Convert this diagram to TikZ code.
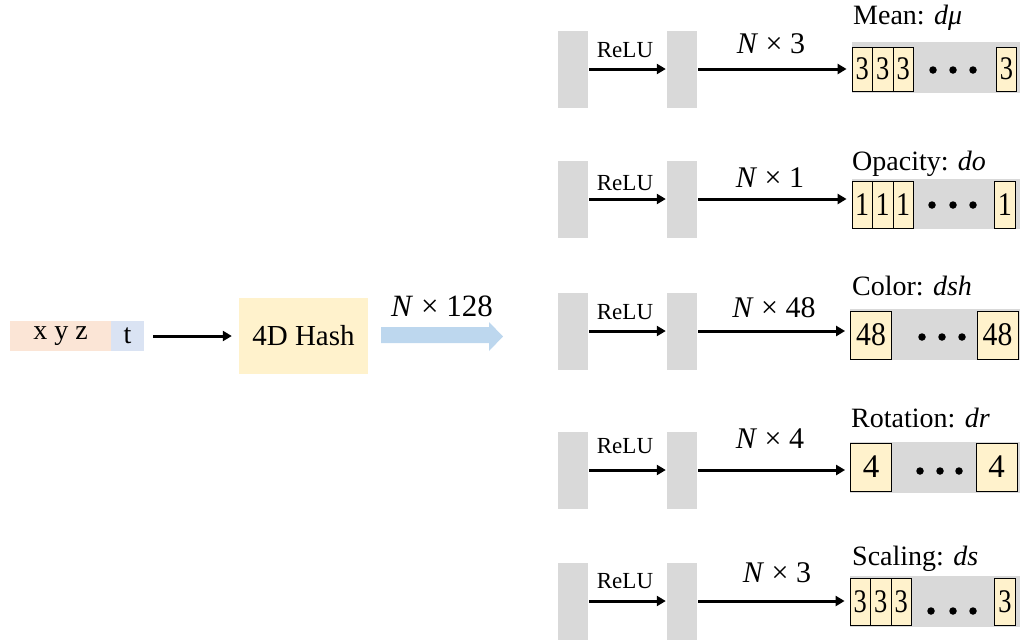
\documentclass[tikz,border=0pt]{standalone}
\usepackage{fontspec}
\setmainfont{Liberation Serif}
\usetikzlibrary{arrows.meta}
\definecolor{bargray}{HTML}{D9D9D9}
\definecolor{cellyel}{HTML}{FFF2CC}
\definecolor{peach}{HTML}{FBE5D6}
\definecolor{lblue}{HTML}{DAE3F3}
\definecolor{arrblue}{HTML}{BDD7EE}
\begin{document}
\begin{tikzpicture}[x=1pt,y=-1pt,
  bar/.style={fill=bargray,draw=none,inner sep=0pt,minimum width=30pt,minimum height=77pt},
  bgbox/.style={fill=bargray,draw=none,inner sep=0pt,minimum height=51pt},
  arr/.style={-{Triangle[length=9pt,width=10pt]},line width=3pt},
  ncell/.style={draw=black,line width=0.8pt,fill=cellyel,inner sep=0pt,minimum width=20.5pt,minimum height=44pt,font=\fontsize{33}{33}\selectfont},
  wcell/.style={draw=black,line width=0.8pt,fill=cellyel,inner sep=0pt,minimum width=41pt,minimum height=47pt,font=\fontsize{33}{33}\selectfont},
  relu/.style={font=\fontsize{23}{23}\selectfont,anchor=base,inner sep=0pt},
  nk/.style={font=\fontsize{30}{30}\selectfont,anchor=base,inner sep=0pt},
  ttl/.style={font=\fontsize{28}{28}\selectfont,anchor=base west,inner sep=0pt},
  dot/.style={circle,fill=black,inner sep=0pt,minimum size=7.5pt}
]
\useasboundingbox (0,0) rectangle (1021,641);

% input
\node[fill=peach,inner sep=0pt,minimum width=101pt,minimum height=30pt,font=\fontsize{28}{28}\selectfont] (xyz) at (60.5,336) {x y z};
\node[fill=lblue,inner sep=0pt,minimum width=33pt,minimum height=30pt,font=\fontsize{28}{28}\selectfont] (t) at (127.5,336) {t};
\node[fill=cellyel,inner sep=0pt,minimum width=129pt,minimum height=76pt,font=\fontsize{29}{29}\selectfont] (hash) at (303.5,336) {4D Hash};
\draw[arr,shorten <=9pt,shorten >=7pt] (t.east) -- (hash.west);

% big blue arrow
\fill[arrblue] (381,327) -- (489,327) -- (489,322) -- (503,336.5) -- (489,351) -- (489,343) -- (381,343) -- cycle;
\node[nk,font=\fontsize{31}{31}\selectfont] (n128) at (442,316) {\textit{N} × 128};

% rows: bars and arrows
\foreach \i/\a/\rb in {1/69/57,2/199/190,3/331/319,4/470/453,5/601/588}{
  \node[bar] (b\i a) at (573,\a) {};
  \node[bar] (b\i b) at (682,\a) {};
  \draw[arr,shorten <=1pt,shorten >=1pt] (b\i a.east) -- (b\i b.west);
  \node[relu] (relu\i) at (625,\rb) {ReLU};
}

% backgrounds
\node[bgbox,minimum width=168pt] (bg1) at (936,67.5) {};
\node[bgbox,minimum width=168pt,minimum height=50pt] (bg2) at (936,204) {};
\node[bgbox,minimum width=170pt] (bg3) at (935,334.5) {};
\node[bgbox,minimum width=170pt] (bg4) at (935,467.5) {};
\node[bgbox,minimum width=170pt] (bg5) at (935,601.5) {};

% row 1 cells
\node[ncell] (c1a) at (862.25,69) {\scalebox{0.8}[1]{3}};
\node[ncell] (c1b) at (882.75,69) {\scalebox{0.8}[1]{3}};
\node[ncell] (c1c) at (903.25,69) {\scalebox{0.8}[1]{3}};
\node[ncell] (c1d) at (1006.5,69) {\scalebox{0.8}[1]{3}};
% row 2
\node[ncell,minimum height=47pt] (c2a) at (862.25,204.5) {\scalebox{0.85}[1]{1}};
\node[ncell,minimum height=47pt] (c2b) at (882.75,204.5) {\scalebox{0.85}[1]{1}};
\node[ncell,minimum height=47pt] (c2c) at (903.25,204.5) {\scalebox{0.85}[1]{1}};
\node[ncell,minimum height=47pt] (c2d) at (1005,204.5) {\scalebox{0.85}[1]{1}};
% row 3
\node[wcell,minimum height=48pt] (c3a) at (871,335) {\scalebox{0.9}[1]{48}};
\node[wcell,minimum height=48pt] (c3d) at (997.5,335) {\scalebox{0.9}[1]{48}};
% row 4
\node[wcell,minimum height=48pt] (c4a) at (871,467) {4};
\node[wcell,minimum height=48pt] (c4d) at (996.5,467) {4};
% row 5
\node[ncell,minimum height=47pt] (c5a) at (860.25,601.5) {\scalebox{0.8}[1]{3}};
\node[ncell,minimum height=47pt] (c5b) at (880.75,601.5) {\scalebox{0.8}[1]{3}};
\node[ncell,minimum height=47pt] (c5c) at (901.25,601.5) {\scalebox{0.8}[1]{3}};
\node[ncell,minimum height=47pt] (c5d) at (1005,601.5) {\scalebox{0.8}[1]{3}};

% long arrows
\foreach \i in {1,2,3,4,5}{
  \draw[arr,shorten <=1pt,shorten >=5pt] (b\i b.east) -- (b\i b.east -| c\i a.west);
}

% N x k labels
\node[nk] (nk1) at (771,53) {\textit{N} × 3};
\node[nk] (nk2) at (770,187) {\textit{N} × 1};
\node[nk] (nk3) at (774,317) {\textit{N} × 48};
\node[nk] (nk4) at (770,448) {\textit{N} × 4};
\node[nk] (nk5) at (777,582) {\textit{N} × 3};

% titles
\node[ttl] (t1) at (853,24) {Mean: \textit{dμ}};
\node[ttl] (t2) at (852,170) {Opacity: \textit{do}};
\node[ttl] (t3) at (852,295) {Color: \textit{dsh}};
\node[ttl] (t4) at (851,427) {Rotation: \textit{dr}};
\node[ttl] (t5) at (852,565) {Scaling: \textit{ds}};

% dots
\foreach \i/\y/\xa/\xb/\xc in {1/70/933/953/973,2/205/932/953/973,3/337/922/942/962,4/471/920/940/959,5/611/931/953/973}{
  \node[dot] (d\i a) at (\xa,\y) {};
  \node[dot] (d\i b) at (\xb,\y) {};
  \node[dot] (d\i c) at (\xc,\y) {};
}
\end{tikzpicture}
\end{document}
